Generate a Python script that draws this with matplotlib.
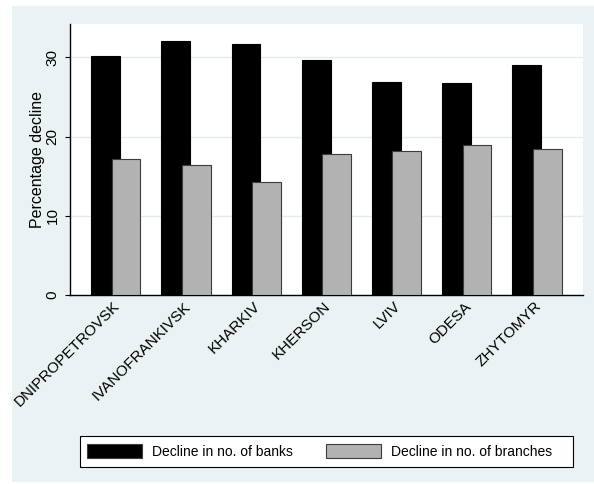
import matplotlib.pyplot as plt
import matplotlib.transforms as mtransforms
import numpy as np
from matplotlib.patches import Rectangle, Patch

# data
regions = ["DNIPROPETROVSK", "IVANOFRANKIVSK", "KHARKIV", "KHERSON", "LVIV", "ODESA", "ZHYTOMYR"]
banks_decline = [30.1, 32.1, 31.7, 29.7, 26.9, 26.8, 29.0]
branches_decline = [17.2, 16.4, 14.2, 17.8, 18.2, 18.9, 18.4]

BG = "#EAF2F3"
GRAY = "#B2B2B2"

plt.rcParams["font.family"] = ["Liberation Sans", "DejaVu Sans"]

fig = plt.figure(figsize=(5.94, 4.84), dpi=100)
fig.patch.set_facecolor("white")
# graph region background
fig.patches.append(
    Rectangle((12 / 594, 1 - 482 / 484), 1 - 12 / 594, (482 - 6) / 484,
              transform=fig.transFigure, facecolor=BG, edgecolor="none", zorder=-10)
)

ax = fig.add_axes([70 / 594, 1 - 295 / 484, (583.3 - 70) / 594, (295 - 24) / 484])
ax.set_facecolor("white")

x = np.arange(len(regions))
width = 0.41
off = 0.145

ax.bar(x - off, banks_decline, width, color="black", edgecolor="black", linewidth=0.8, zorder=2)
ax.bar(x + off, branches_decline, width, color=GRAY, edgecolor="#3c3c3c", linewidth=0.8, zorder=3)

ax.set_xlim(-0.653, len(regions) - 1 + 0.66)
ax.set_ylim(0, 34.2)

ax.set_yticks([0, 10, 20, 30])
ax.yaxis.grid(True, color="#E3ECEE", linewidth=1.0, zorder=1)
ax.set_axisbelow(True)
for lab in ax.get_yticklabels():
    lab.set_rotation(90)
    lab.set_va("center")
ax.tick_params(axis="y", length=3.5, width=0.8, pad=4, labelsize=11)
ax.set_ylabel("Percentage decline", fontsize=11.5)
ax.yaxis.set_label_coords(-0.048, 0.5)

ax.set_xticks(x)
ax.set_xticklabels(regions, rotation=45, ha="right", va="top", rotation_mode="anchor", fontsize=11)
ax.tick_params(axis="x", length=0, pad=3)
# nudge the angled labels a little to the left
shift = mtransforms.ScaledTranslation(-3 / 100, 0, fig.dpi_scale_trans)
for lab in ax.get_xticklabels():
    lab.set_transform(lab.get_transform() + shift)

for s in ["top", "right"]:
    ax.spines[s].set_visible(False)
for s in ["left", "bottom"]:
    ax.spines[s].set_linewidth(1.0)

# legend box drawn separately so it can span the full width
fig.patches.append(
    Rectangle((80 / 594, 1 - 466.7 / 484), (573.3 - 80) / 594, 31 / 484,
              transform=fig.transFigure, facecolor="white", edgecolor="black",
              linewidth=0.8, zorder=1)
)
handles = [
    Patch(facecolor="black", edgecolor="#3c3c3c", linewidth=0.8),
    Patch(facecolor=GRAY, edgecolor="#3c3c3c", linewidth=0.8),
]
leg = fig.legend(
    handles, ["Decline in no. of banks", "Decline in no. of branches"],
    loc="center left",
    bbox_to_anchor=(80 / 594, 1 - 451.3 / 484),
    ncol=2, fontsize=10, frameon=False,
    handlelength=3.95, handleheight=1.15, handletextpad=0.72,
    columnspacing=2.4, borderpad=0.48, borderaxespad=0,
)
leg.set_zorder(2)

fig.savefig("out.png", dpi=100, facecolor=fig.get_facecolor())
